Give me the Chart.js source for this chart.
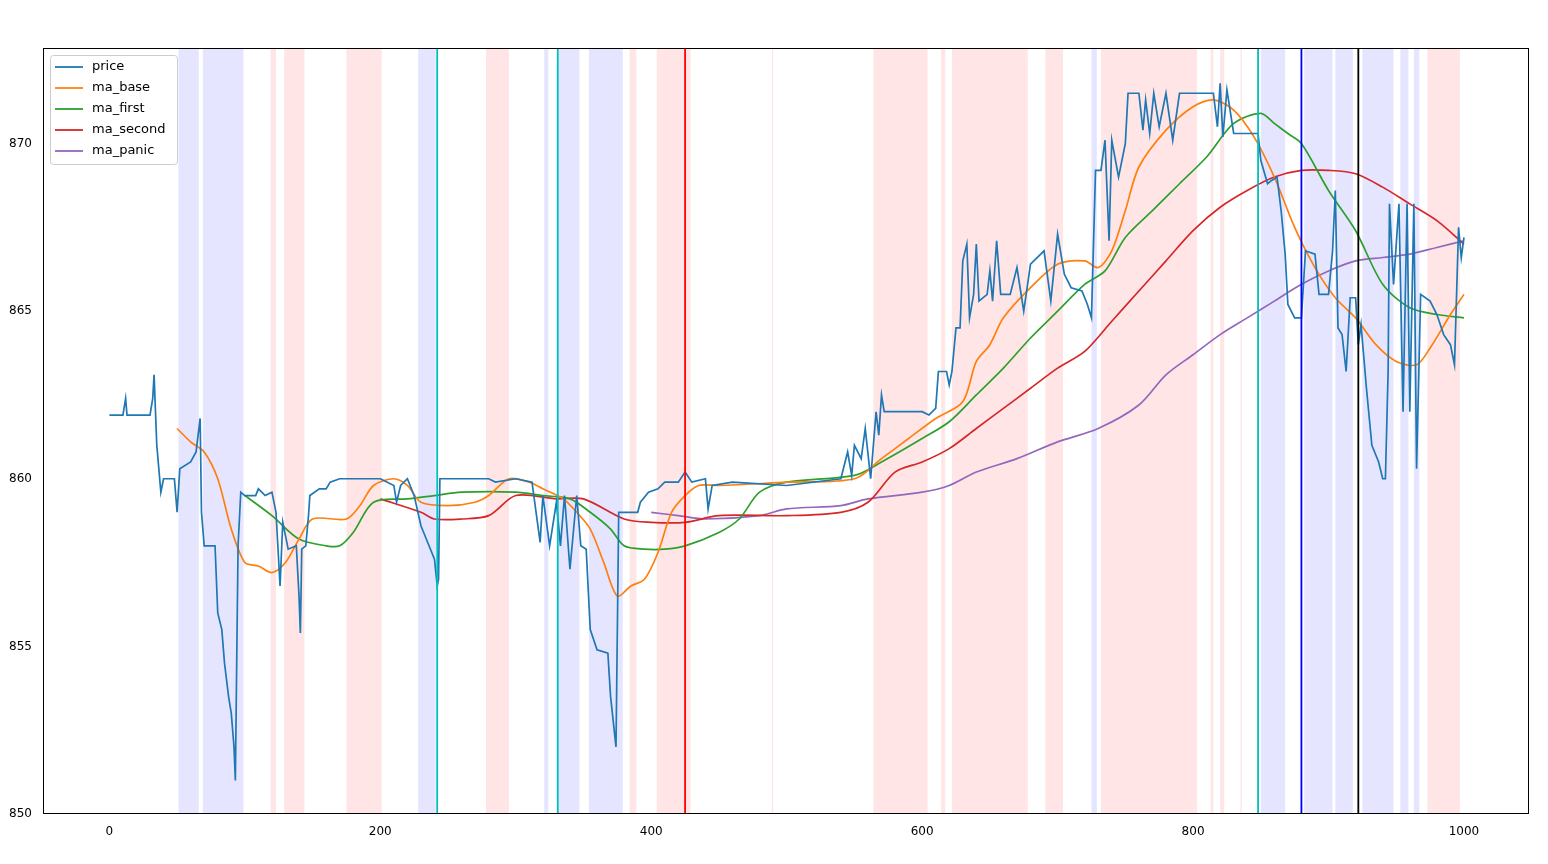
<!DOCTYPE html>
<html><head><meta charset="utf-8">
<script src="https://cdn.jsdelivr.net/npm/chart.js@4"></script>
<style>html,body{margin:0;padding:0;background:#fff}#wrap{width:1548px;height:864px}</style>
</head><body><div id="wrap"><canvas id="c"></canvas></div>
<script>
const priceData=[[0,861.9],[10,861.9],[12,862.4],[13,861.9],[30,861.9],[32,862.4],[33,863.1],[35,861],[38,859.6],[40,860],[48,860],[50,859],[52,860.3],[60,860.5],[64,860.8],[67,861.8],[68,859],[70,858],[78,858],[80,856],[83,855.5],[85,854.5],[88,853.5],[90,853],[92,852],[93,851],[95,858],[97,859.6],[100,859.5],[108,859.5],[110,859.7],[115,859.5],[120,859.6],[123,859],[126,856.8],[128,858.7],[132,857.9],[138,858],[140,856.5],[141,855.4],[142,857.9],[145,858],[147,858.9],[148,859.5],[155,859.7],[160,859.7],[163,859.9],[170,860],[200,860],[210,859.8],[212,859.3],[215,859.8],[220,860],[225,859.5],[230,858.6],[235,858.1],[240,857.6],[242,856.8],[243,857],[244,860],[280,860],[285,859.9],[300,860],[312,859.9],[315,859],[318,858.1],[320,859.5],[325,858],[330,859.3],[333,858],[336,859.5],[340,857.3],[345,859.5],[348,858],[352,857.9],[355,855.5],[360,854.9],[368,854.8],[370,853.5],[374,852],[376,859],[385,859],[390,859],[392,859.3],[398,859.6],[405,859.7],[410,859.9],[420,859.9],[425,860.2],[430,859.9],[440,860],[442,859.1],[445,859.8],[460,859.9],[500,859.8],[540,860],[545,860.8],[548,860.1],[550,861],[555,860.6],[558,861.5],[562,860],[566,862],[568,861.3],[570,862.5],[572,862],[580,862],[600,862],[605,861.9],[610,862.1],[612,863.2],[618,863.2],[620,862.8],[622,863.2],[625,864.5],[628,864.5],[630,866.5],[633,867],[635,864.8],[638,865.5],[640,867],[642,865.3],[648,865.5],[650,866.2],[652,865.3],[655,867.1],[658,865.5],[665,865.5],[670,866.3],[675,865],[680,866.4],[690,866.8],[695,865.3],[700,867.3],[705,866.1],[710,865.7],[718,865.6],[722,865.2],[725,864.8],[728,869.2],[732,869.2],[735,870.1],[738,867.1],[740,870.1],[745,869],[750,870],[752,871.5],[760,871.5],[763,870.4],[765,871.3],[768,870.3],[771,871.5],[775,870.5],[780,871.5],[785,870.1],[790,871.5],[800,871.5],[815,871.5],[818,870.5],[820,871.8],[822,870.2],[825,871.6],[830,870.3],[848,870.3],[850,869.5],[855,868.8],[858,868.9],[862,869],[865,868],[868,866.7],[870,865.2],[875,864.8],[880,864.8],[883,866.8],[890,866.7],[893,865.5],[900,865.5],[903,866.8],[905,868.6],[907,864.5],[910,864.3],[913,863.2],[916,865.4],[920,865.4],[922,864],[924,864.6],[928,862.7],[932,861],[937,860.5],[940,860],[942,860],[944,863.2],[945,868.2],[948,865.8],[952,868.2],[955,862],[958,868.2],[960,862],[963,868.2],[965,860.3],[968,865.5],[975,865.3],[980,864.9],[985,864.3],[990,864],[993,863.4],[996,867.5],[998,866.6],[1000,867.2]];
const baseX=[50,60,70,80,90,100,110,120,130,140,150,175,185,195,210,220,230,250,270,280,295,310,320,335,345,355,365,375,385,395,405,415,425,435,450,500,550,570,590,610,630,640,650,660,680,700,720,730,740,750,760,780,800,815,830,845,860,875,890,905,920,935,950,965,975,990,1000];
const baseY=[861.5,861.1,860.8,860,858.5,857.5,857.4,857.2,857.5,858.2,858.8,858.8,859.2,859.8,860,859.8,859.3,859.2,859.3,859.5,860,859.9,859.7,859.4,859,858.5,857.5,856.5,856.8,857,857.8,859,859.5,859.8,859.8,859.9,860,860.6,861.2,861.8,862.3,863.5,864,864.8,865.7,866.4,866.5,866.3,866.8,868,869.3,870.4,871.1,871.3,871,870.2,869,867.5,866.3,865.4,864.8,864,863.5,863.4,863.9,864.9,865.5];
const firstX=[100,120,140,160,170,180,195,220,240,260,300,320,340,355,370,380,395,410,425,450,465,480,500,550,570,600,620,640,660,680,700,720,735,750,770,790,810,830,850,860,870,880,900,920,940,960,980,1000];
const firstY=[859.5,858.9,858.2,858,858,858.4,859.3,859.4,859.5,859.6,859.6,859.5,859.4,859,858.5,858,857.9,857.9,858,858.4,858.8,859.6,859.9,860.1,860.5,861.2,861.7,862.5,863.3,864.2,865,865.8,866.2,867.2,868,868.8,869.6,870.6,870.9,870.6,870.3,870,868.6,867.4,865.8,865.1,864.9,864.8];
const secondX=[200,230,240,260,280,300,330,350,380,400,425,450,500,540,560,580,600,620,640,660,680,700,720,740,760,780,800,820,840,860,880,900,920,940,960,980,1000];
const secondY=[859.4,859,858.8,858.8,858.9,859.5,859.4,859.4,858.8,858.7,858.7,858.9,858.9,859,859.3,860.2,860.5,860.9,861.5,862.1,862.7,863.3,863.8,864.7,865.6,866.5,867.4,868.1,868.6,869,869.2,869.2,869.1,868.7,868.2,867.7,867];
const panicX=[400,420,440,480,500,540,560,600,620,640,670,700,730,760,780,800,820,840,860,880,900,920,940,960,980,1000];
const panicY=[859,858.9,858.8,858.9,859.1,859.2,859.4,859.6,859.8,860.2,860.6,861.1,861.5,862.2,863.1,863.7,864.3,864.8,865.3,865.8,866.2,866.5,866.6,866.7,866.9,867.1];
const blueBands=[[51,66],[69,99],[228,241],[321,324],[331,347],[354,379],[725,729],[850,868],[882,903],[905,918],[925,948],[953,959],[963,967]];
const redBands=[[119,123],[129,144],[175,201],[278,295],[384,389],[404,429],[489,490],[564,604],[614,617],[622,678],[691,704],[732,803],[813,815],[820,823],[835,836],[973,997]];
const vLines=[[242,'#00bfbf'],[331,'#00bfbf'],[848,'#00bfbf'],[425,'#ff0000'],[880,'#0000ff'],[922,'#000000']];
const xTicks=[0,200,400,600,800,1000];
const yTicks=[850,855,860,865,870];
const names=['price','ma_base','ma_first','ma_second','ma_panic'];
const colors=['#1f77b4','#ff7f0e','#2ca02c','#d62728','#9467bd'];

const pts=(xs,ys)=>xs.map((x,i)=>({x:x,y:ys[i]}));
const series=[priceData.map(p=>({x:p[0],y:p[1]})),pts(baseX,baseY),pts(firstX,firstY),pts(secondX,secondY),pts(panicX,panicY)];

const bgPlugin={id:'bg',beforeDatasetsDraw(ch){
  const {ctx,chartArea:a,scales:{x}}=ch;ctx.save();
  const band=(b,c)=>{const x1=x.getPixelForValue(b[0]),x2=x.getPixelForValue(b[1]);ctx.fillStyle=c;ctx.fillRect(x1,a.top,Math.max(1,x2-x1),a.bottom-a.top);};
  blueBands.forEach(b=>band(b,'rgba(0,0,255,0.1)'));
  redBands.forEach(b=>band(b,'rgba(255,0,0,0.1)'));
  ctx.restore();
},afterDatasetsDraw(ch){
  const {ctx,chartArea:a,scales:{x}}=ch;ctx.save();ctx.lineWidth=1.8;
  vLines.forEach(v=>{const p=x.getPixelForValue(v[0]);ctx.strokeStyle=v[1];ctx.beginPath();ctx.moveTo(p,a.top);ctx.lineTo(p,a.bottom);ctx.stroke();});
  ctx.strokeStyle='#000';ctx.lineWidth=1;ctx.strokeRect(a.left+0.5,a.top+0.5,a.right-a.left-1,a.bottom-a.top-1);
  const lx=a.left+7,ly=a.top+7,w=127,h=109;
  ctx.fillStyle='rgba(255,255,255,0.8)';ctx.strokeStyle='#ccc';ctx.lineWidth=1;
  ctx.beginPath();ctx.roundRect(lx+0.5,ly+0.5,w,h,3);ctx.fill();ctx.stroke();
  ctx.font='13px "DejaVu Sans"';ctx.textBaseline='middle';
  names.forEach((n,i)=>{const yy=ly+12+i*21;ctx.strokeStyle=colors[i];ctx.lineWidth=1.8;ctx.beginPath();ctx.moveTo(lx+5,yy);ctx.lineTo(lx+33,yy);ctx.stroke();ctx.fillStyle='#000';ctx.fillText(n,lx+42,yy);});
  ctx.restore();
}};

new Chart(document.getElementById('c'),{type:'line',
 data:{datasets:series.map((d,i)=>({label:names[i],data:d,borderColor:colors[i],borderWidth:1.7,pointRadius:0,tension:i==0?0:0.3,fill:false}))},
 options:{responsive:true,maintainAspectRatio:false,animation:false,
  layout:{padding:{top:48,right:19,left:0,bottom:0}},
  plugins:{legend:{display:false},tooltip:{enabled:false}},
  scales:{
   x:{type:'linear',min:-49,max:1048,grid:{display:false},border:{display:false},
      afterBuildTicks(s){s.ticks=xTicks.map(v=>({value:v}));},
      afterFit(s){s.height=50;},
      ticks:{color:'#000',font:{family:'DejaVu Sans',size:12},maxRotation:0,callback:v=>String(v)}},
   y:{min:850,max:872.85,grid:{display:false},border:{display:false},
      afterBuildTicks(s){s.ticks=yTicks.map(v=>({value:v}));},
      afterFit(s){s.width=43;},
      ticks:{color:'#000',font:{family:'DejaVu Sans',size:12}}}
  }},plugins:[bgPlugin]});
</script></body></html>
